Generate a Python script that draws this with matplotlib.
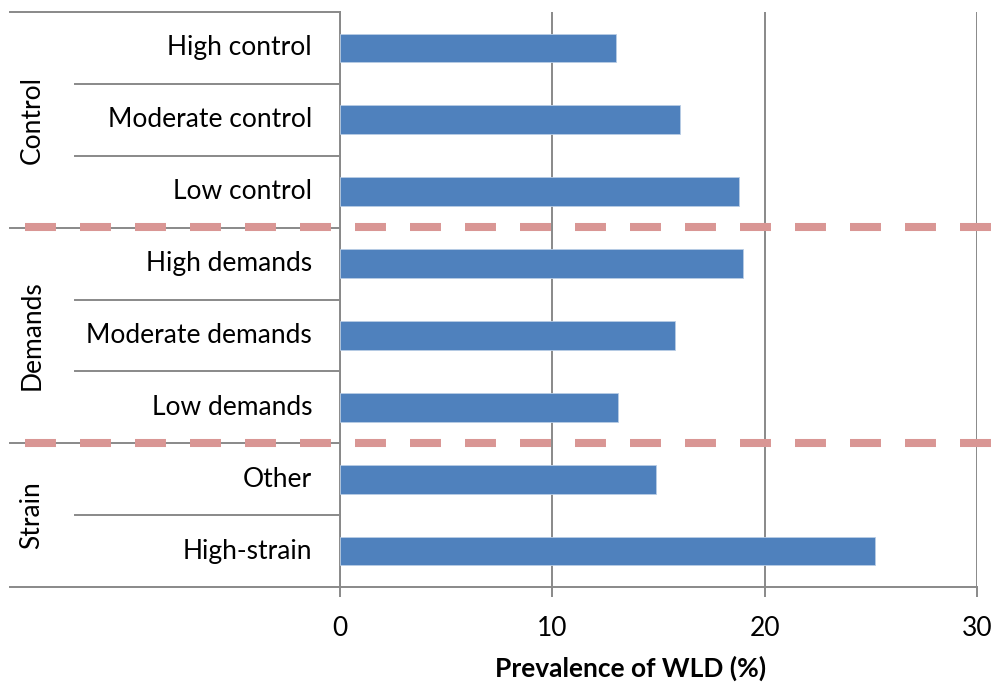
import matplotlib
matplotlib.use("Agg")
import matplotlib.pyplot as plt
from matplotlib.transforms import blended_transform_factory
from matplotlib.lines import Line2D

plt.rcParams['font.family'] = ['Lato', 'DejaVu Sans']

categories = ["High control", "Moderate control", "Low control",
              "High demands", "Moderate demands", "Low demands",
              "Other", "High-strain"]
groups = ["Control", "Demands", "Strain"]
group_sizes = [3, 3, 2]
values = [13.0, 16.0, 18.8, 19.0, 15.8, 13.1, 14.9, 25.2]
xticks = [0, 10, 20, 30]
xlabel = "Prevalence of WLD (%)"

W, H = 999, 685
fig = plt.figure(figsize=(W / 100, H / 100), dpi=100)
L, R, T, B = 340, 977, 12, 587
ax = fig.add_axes([L / W, 1 - B / H, (R - L) / W, (B - T) / H])

gray = "#898989"
bar_color = "#4F81BD"
dash_color = "#D99694"
fs = 19

y = list(range(len(categories)))
ax.barh(y, values, height=0.4, color=bar_color, edgecolor="#B9CDE5",
        linewidth=0.6, zorder=3)
ax.set_ylim(len(categories) - 0.5, -0.5)
ax.set_xlim(0, 30)
ax.set_xticks(xticks)
ax.set_xticklabels([str(t) for t in xticks], fontsize=fs)
ax.set_yticks([])
ax.grid(axis="x", color=gray, linewidth=1.4, zorder=1)
ax.set_axisbelow(True)
for s in ["top", "right"]:
    ax.spines[s].set_visible(False)
for s in ["left", "bottom"]:
    ax.spines[s].set_color(gray)
    ax.spines[s].set_linewidth(1.4)
    ax.spines[s].set_zorder(2)
ax.tick_params(axis="x", length=7, width=1.4, color=gray, pad=14)

tr = blended_transform_factory(fig.transFigure, ax.transData)

# Category labels
for i, c in enumerate(categories):
    ax.text(312 / W, i, c, transform=tr, ha="right", va="center", fontsize=fs)

# Separator lines on the category axis
bounds = []
start = 0
for g, n in zip(groups, group_sizes):
    bounds.append((start, start + n))
    start += n

for (a, b) in bounds:
    for k in range(a + 1, b):
        fig.add_artist(Line2D([75 / W, L / W], [k - 0.5, k - 0.5], transform=tr,
                              color=gray, linewidth=1.4))
for k in [0] + [b for (_, b) in bounds]:
    fig.add_artist(Line2D([10 / W, L / W], [k - 0.5, k - 0.5], transform=tr,
                          color=gray, linewidth=1.4))

# Group labels
for g, (a, b) in zip(groups, bounds):
    ax.text(32 / W, (a + b - 1) / 2, g, transform=tr, ha="center", va="center",
            rotation=90, fontsize=fs)

# Dashed group separators
lw = 5.8
for (_, b) in bounds[:-1]:
    fig.add_artist(Line2D([25 / W, 1.0], [b - 0.5 - 0.01, b - 0.5 - 0.01], transform=tr,
                          color=dash_color, linewidth=lw,
                          linestyle=(0, (22.3 / lw, 17.3 / lw)),
                          solid_capstyle="butt", dash_capstyle="butt", zorder=5))

fig.text(631 / W, 1 - 668 / H, xlabel, ha="center", va="center",
         fontsize=fs, fontweight="bold")

fig.savefig("out.png", dpi=100)
